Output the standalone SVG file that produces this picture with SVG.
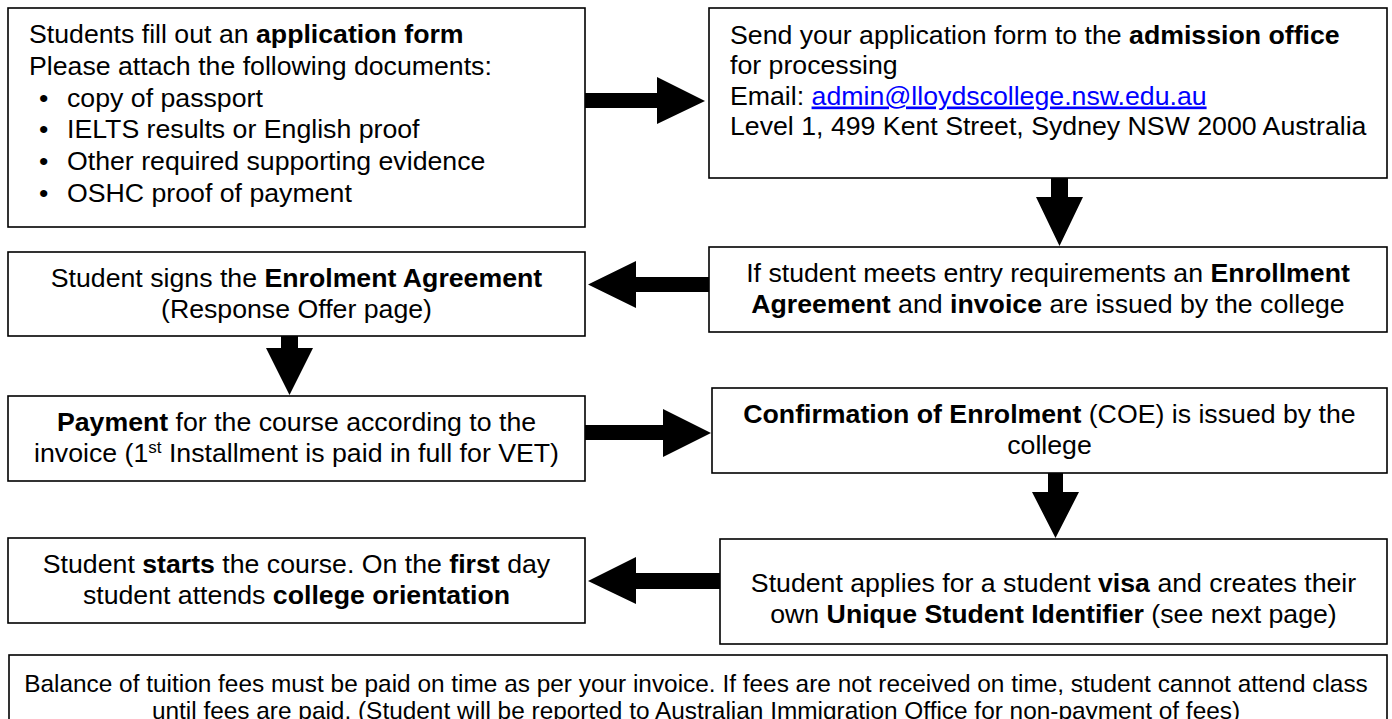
<svg xmlns="http://www.w3.org/2000/svg" width="1392" height="719" viewBox="0 0 1392 719">
<style>
.box{fill:#fff;stroke:#000;stroke-width:1.6}
.t{font-family:"Liberation Sans",Arial,Helvetica,sans-serif;font-size:26.7px;fill:#000}
.s{font-size:24.4px}
.m{text-anchor:middle}
.b{font-weight:bold}
.link{fill:#0000ff;text-decoration:underline}
.arrow{fill:#000;stroke:none}
</style>
<rect width="1392" height="719" fill="#fff"/>
<g id="connectors">
<polygon class="arrow" points="585,93 657,93 657,77 705,101 657,124 657,108 585,108"/>
<polygon class="arrow" points="1051,178 1068,178 1068,197 1083,197 1059.5,246 1036,197 1051,197"/>
<polygon class="arrow" points="709,277 636,277 636,261 588,284.5 636,308 636,292 709,292"/>
<polygon class="arrow" points="281,336 298,336 298,348 313,348 289.5,395 266,348 281,348"/>
<polygon class="arrow" points="585,425 663,425 663,409 711,433 663,457 663,440 585,440"/>
<polygon class="arrow" points="1048,473 1063,473 1063,492 1079,492 1055.5,538 1032,492 1048,492"/>
<polygon class="arrow" points="720,573 636,573 636,557 588,581 636,604 636,589 720,589"/>
</g>
<g id="node-application">
<rect class="box" x="8" y="8" width="577" height="219"/>
<text class="t" x="29" y="43">Students fill out an <tspan class="b">application form</tspan></text>
<text class="t" x="29" y="74.8">Please attach the following documents:</text>
<text class="t" x="39" y="106.6">•</text><text class="t" x="67" y="106.6">copy of passport</text>
<text class="t" x="39" y="138.4">•</text><text class="t" x="67" y="138.4">IELTS results or English proof</text>
<text class="t" x="39" y="170.2">•</text><text class="t" x="67" y="170.2">Other required supporting evidence</text>
<text class="t" x="39" y="202">•</text><text class="t" x="67" y="202">OSHC proof of payment</text>
</g>
<g id="node-admission">
<rect class="box" x="709" y="8" width="678" height="170"/>
<text class="t" x="730" y="43.5">Send your application form to the <tspan class="b">admission office</tspan></text>
<text class="t" x="730" y="74">for processing</text>
<text class="t" x="730" y="104.5">Email: <tspan class="link">admin@lloydscollege.nsw.edu.au</tspan></text>
<text class="t" x="730" y="135">Level 1, 499 Kent Street, Sydney NSW 2000 Australia</text>
</g>
<g id="node-offer">
<rect class="box" x="709" y="247" width="678" height="85"/>
<text class="t m" x="1048" y="282">If student meets entry requirements an <tspan class="b">Enrollment</tspan></text>
<text class="t m" x="1048" y="313"><tspan class="b">Agreement</tspan> and <tspan class="b">invoice</tspan> are issued by the college</text>
</g>
<g id="node-sign">
<rect class="box" x="8" y="252" width="577" height="84"/>
<text class="t m" x="296.5" y="287">Student signs the <tspan class="b">Enrolment Agreement</tspan></text>
<text class="t m" x="296.5" y="318">(Response Offer page)</text>
</g>
<g id="node-payment">
<rect class="box" x="8" y="396" width="577" height="85"/>
<text class="t m" x="296.5" y="431"><tspan class="b">Payment</tspan> for the course according to the</text>
<text class="t m" x="296.5" y="462">invoice (1<tspan font-size="17" dy="-9">st</tspan><tspan dy="9"> Installment is paid in full for VET)</tspan></text>
</g>
<g id="node-coe">
<rect class="box" x="712" y="388" width="675" height="85"/>
<text class="t m" x="1049.5" y="423"><tspan class="b">Confirmation of Enrolment</tspan> (COE) is issued by the</text>
<text class="t m" x="1049.5" y="454">college</text>
</g>
<g id="node-visa">
<rect class="box" x="720" y="539" width="667" height="105"/>
<text class="t m" x="1053.5" y="592">Student applies for a student <tspan class="b">visa</tspan> and creates their</text>
<text class="t m" x="1053.5" y="623">own <tspan class="b">Unique Student Identifier</tspan> (see next page)</text>
</g>
<g id="node-start">
<rect class="box" x="8" y="538" width="577" height="85"/>
<text class="t m" x="296.5" y="573">Student <tspan class="b">starts</tspan> the course. On the <tspan class="b">first</tspan> day</text>
<text class="t m" x="296.5" y="604">student attends <tspan class="b">college orientation</tspan></text>
</g>
<g id="node-fees">
<rect class="box" x="9" y="655" width="1378" height="80"/>
<text class="t s m" x="696" y="692">Balance of tuition fees must be paid on time as per your invoice. If fees are not received on time, student cannot attend class</text>
<text class="t s m" x="696" y="719">until fees are paid. (Student will be reported to Australian Immigration Office for non-payment of fees)</text>
</g>
</svg>
